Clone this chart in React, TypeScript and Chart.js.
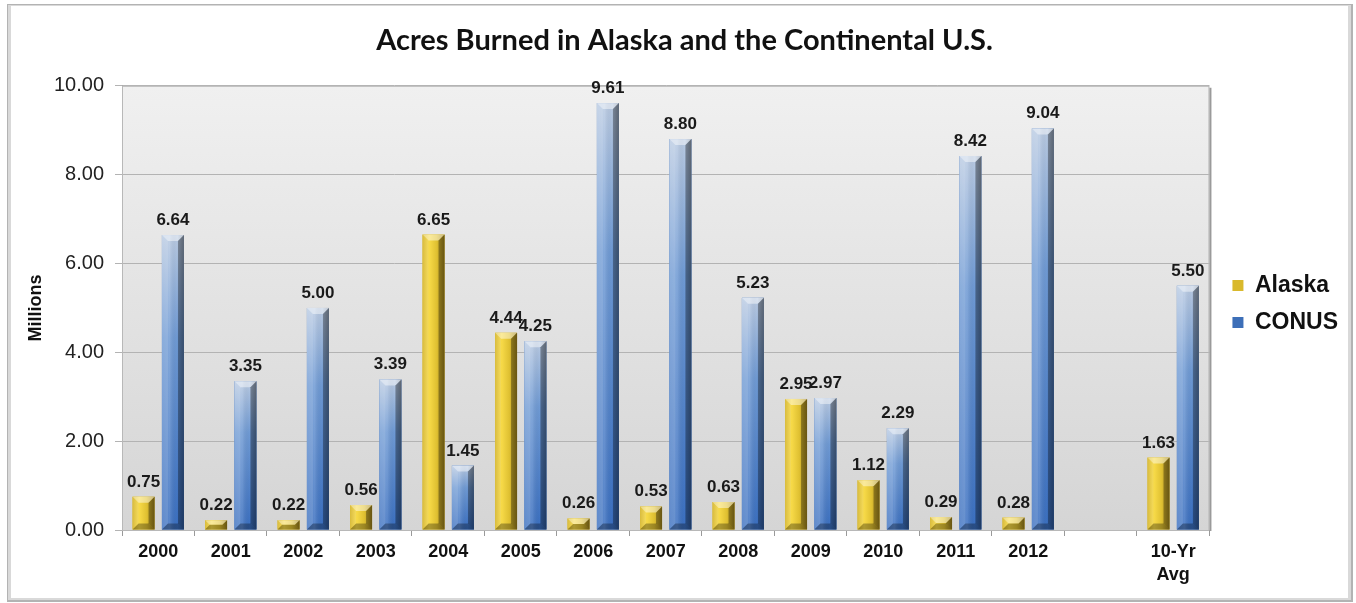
import React, { useEffect, useRef } from 'react';
import { Chart, registerables } from 'chart.js';

Chart.register(...registerables);

const categories: (string | string[])[] = ['2000', '2001', '2002', '2003', '2004', '2005', '2006', '2007', '2008', '2009', '2010', '2011', '2012', '', ['10-Yr', 'Avg']];
const alaska: (number | null)[] = [0.75, 0.22, 0.22, 0.56, 6.65, 4.44, 0.26, 0.53, 0.63, 2.95, 1.12, 0.29, 0.28, null, 1.63];
const conus: (number | null)[] = [6.64, 3.35, 5.0, 3.39, 1.45, 4.25, 9.61, 8.8, 5.23, 2.97, 2.29, 8.42, 9.04, null, 5.5];
const seriesNames = ['Alaska', 'CONUS'];
const yMin = 0;
const yMax = 10;
const yStep = 2;
const titleText = 'Acres Burned in Alaska and the Continental U.S.';
const yTitle = 'Millions';

const W = 1356;
const H = 603;

const framePlugin = {
  id: 'framePlugin',
  beforeDraw(chart: any) {
    const ctx = chart.ctx;
    ctx.save();
    ctx.fillStyle = '#ffffff';
    ctx.fillRect(0, 0, W, H);
    ctx.fillStyle = '#b3b3b3';
    ctx.fillRect(7, 4, 1346, 598);
    ctx.fillStyle = '#d9d9d9';
    ctx.fillRect(8, 5, 1343, 595);
    ctx.fillStyle = '#ffffff';
    ctx.fillRect(11, 6, 1337, 592);
    const a = chart.chartArea;
    const g = ctx.createLinearGradient(0, a.top, 0, a.bottom);
    g.addColorStop(0, '#f0f0f0');
    g.addColorStop(1, '#d5d5d5');
    ctx.fillStyle = g;
    ctx.fillRect(a.left, a.top, a.right - a.left, a.bottom - a.top);
    ctx.restore();
  },
  beforeDatasetsDraw(chart: any) {
    const ctx = chart.ctx;
    const a = chart.chartArea;
    ctx.save();
    ctx.strokeStyle = '#b8b8b8';
    ctx.lineWidth = 1;
    ctx.strokeRect(a.left + 0.5, a.top + 0.5, a.right - a.left - 1, a.bottom - a.top);
    ctx.strokeStyle = '#9a9a9a';
    ctx.lineWidth = 2;
    ctx.beginPath();
    ctx.moveTo(a.right + 1, a.top + 2);
    ctx.lineTo(a.right + 1, a.bottom + 1);
    ctx.stroke();
    ctx.restore();
  },
};

function poly(ctx: any, pts: number[][], fill: string) {
  ctx.beginPath();
  ctx.moveTo(pts[0][0], pts[0][1]);
  for (let k = 1; k < pts.length; k++) ctx.lineTo(pts[k][0], pts[k][1]);
  ctx.closePath();
  ctx.fillStyle = fill;
  ctx.fill();
}

const barPainter = {
  id: 'barPainter',
  afterDatasetsDraw(chart: any) {
    const ctx = chart.ctx;
    chart.data.datasets.forEach((ds: any, di: number) => {
      const meta = chart.getDatasetMeta(di);
      meta.data.forEach((el: any, i: number) => {
        const v = ds.data[i];
        if (v == null) return;
        const p = el.getProps(['x', 'y', 'base', 'width'], true);
        const L = p.x - p.width / 2;
        const R = p.x + p.width / 2;
        const T = Math.min(p.y, p.base);
        const B = Math.max(p.y, p.base);
        const w = R - L;
        const h = B - T;
        ctx.save();
        if (di === 0) {
          const g = ctx.createLinearGradient(L, 0, R, 0);
          g.addColorStop(0, '#d4b324');
          g.addColorStop(0.3, '#f7da48');
          g.addColorStop(0.65, '#dfc031');
          g.addColorStop(1, '#9a7e1a');
          ctx.fillStyle = g;
          ctx.fillRect(L, T, w, h);
        } else {
          const g = ctx.createLinearGradient(0, T, 0, B);
          g.addColorStop(0, '#b9cae2');
          g.addColorStop(0.35, '#6f9ad4');
          g.addColorStop(1, '#3a6fc0');
          ctx.fillStyle = g;
          ctx.fillRect(L, T, w, h);
          const g2 = ctx.createLinearGradient(L, 0, R, 0);
          g2.addColorStop(0, 'rgba(255,255,255,0.08)');
          g2.addColorStop(0.35, 'rgba(255,255,255,0.15)');
          g2.addColorStop(0.7, 'rgba(0,0,0,0.0)');
          g2.addColorStop(1, 'rgba(0,0,0,0.25)');
          ctx.fillStyle = g2;
          ctx.fillRect(L, T, w, h);
        }
        const b = Math.min(6, w / 3, h / 2);
        poly(ctx, [[L, T], [R, T], [R - b, T + b], [L + b, T + b]], 'rgba(255,255,255,0.45)');
        poly(ctx, [[L, T], [L + b, T + b], [L + b, B - b], [L, B]], 'rgba(255,255,255,0.12)');
        poly(ctx, [[R, T], [R, B], [R - b, B - b], [R - b, T + b]], 'rgba(0,0,0,0.32)');
        poly(ctx, [[L, B], [R, B], [R - b, B - b], [L + b, B - b]], 'rgba(0,0,0,0.3)');
        ctx.restore();
      });
    });
  },
  afterDraw(chart: any) {
    const ctx = chart.ctx;
    ctx.save();
    ctx.font = 'bold 17px "Liberation Sans", Arial, sans-serif';
    ctx.fillStyle = '#1a1a1a';
    ctx.textAlign = 'center';
    ctx.textBaseline = 'alphabetic';
    chart.data.datasets.forEach((ds: any, di: number) => {
      const meta = chart.getDatasetMeta(di);
      meta.data.forEach((el: any, i: number) => {
        const v = ds.data[i];
        if (v == null) return;
        const p = el.getProps(['x', 'y'], true);
        ctx.fillText(Number(v).toFixed(2), p.x, p.y - 10);
      });
    });
    ctx.restore();
  },
};

export default function App() {
  const ref = useRef<HTMLCanvasElement>(null);
  useEffect(() => {
    if (!ref.current) return;
    const chart = new Chart(ref.current, {
      type: 'bar',
      data: {
        labels: categories as any,
        datasets: [
          { label: seriesNames[0], data: alaska as any, backgroundColor: '#d9b92c', borderWidth: 0 },
          { label: seriesNames[1], data: conus as any, backgroundColor: '#3d6fb8', borderWidth: 0 },
        ],
      },
      options: {
        animation: false,
        responsive: false,
        devicePixelRatio: 1,
        categoryPercentage: 0.81,
        barPercentage: 0.75,
        layout: { padding: { left: 21, right: 8, top: 18, bottom: 13 } },
        plugins: {
          tooltip: { enabled: false },
          title: {
            display: true,
            text: titleText,
            color: '#111111',
            font: { family: 'Lato, "Open Sans", sans-serif', size: 29, weight: 'bold', lineHeight: 1.2 },
            padding: { top: 5, bottom: 28 },
          },
          legend: {
            display: true,
            position: 'right',
            labels: {
              color: '#111111',
              boxWidth: 11,
              boxHeight: 11,
              padding: 14,
              font: { family: '"Liberation Sans", Arial, sans-serif', size: 23, weight: 'bold' },
            },
          },
        },
        scales: {
          x: {
            grid: { offset: true, drawOnChartArea: false, tickLength: 6, color: '#9a9a9a' },
            border: { color: '#9a9a9a' },
            ticks: {
              color: '#111111',
              maxRotation: 0,
              autoSkip: false,
              padding: 4,
              font: { family: '"Liberation Sans", Arial, sans-serif', size: 18, weight: 'bold', lineHeight: 1.3 },
            },
            afterFit: (s: any) => { s.height = 60; },
          },
          y: {
            min: yMin,
            max: yMax,
            ticks: {
              stepSize: yStep,
              color: '#222222',
              padding: 11,
              font: { family: '"Liberation Sans", Arial, sans-serif', size: 20 },
              callback: (v: any) => Number(v).toFixed(2),
            },
            grid: { color: '#b3b3b3', tickLength: 7 },
            border: { color: '#a8a8a8' },
            title: {
              display: true,
              text: yTitle,
              color: '#111111',
              font: { family: '"Liberation Sans", Arial, sans-serif', size: 18, weight: 'bold' },
              padding: 4,
            },
            afterFit: (s: any) => { s.width = 101; },
          },
          yPad: {
            position: 'right',
            display: true,
            grid: { display: false, drawTicks: false },
            border: { display: false },
            ticks: { display: false },
            afterFit: (s: any) => { s.width = 9; },
          },
        },
      },
      plugins: [framePlugin, barPainter],
    });
    return () => chart.destroy();
  }, []);
  return (
    <div style={{ position: 'absolute', left: 0, top: 0, width: W, height: H }}>
      <canvas ref={ref} width={W} height={H} />
    </div>
  );
}
